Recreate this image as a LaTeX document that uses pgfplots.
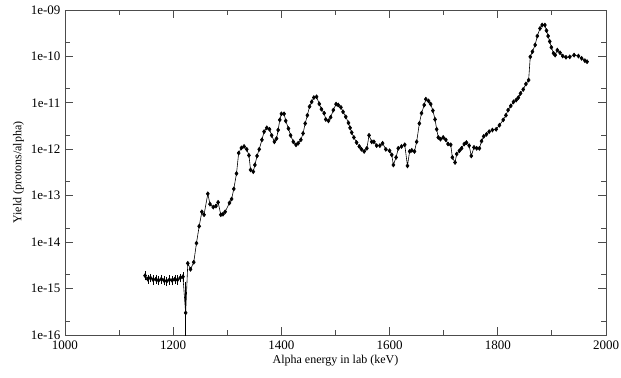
\documentclass[border=0pt]{standalone}
\usepackage{pgfplots}
\pgfplotsset{compat=1.18}
\usepackage{fontspec}
\setmainfont{Liberation Serif}
\begin{document}
\begin{tikzpicture}
\begin{axis}[
  scale only axis,
  width=541bp, height=325bp,
  xmin=1000, xmax=2000,
  ymode=log, ymin=1e-16, ymax=1e-9,
  xtick={1000,1200,1400,1600,1800,2000},
  minor xtick={1100,1300,1500,1700,1900},
  ytick={1e-16,1e-15,1e-14,1e-13,1e-12,1e-11,1e-10,1e-9},
  yticklabels={1e-16,1e-15,1e-14,1e-13,1e-12,1e-11,1e-10,1e-09},
  minor ytick={2e-16,2e-15,2e-14,2e-13,2e-12,2e-11,2e-10},
  /pgf/number format/assume math mode=true,
  /pgf/number format/1000 sep={},
  tick label style={font=\fontsize{13bp}{15bp}\selectfont},
  label style={font=\fontsize{12bp}{14bp}\selectfont},
  xlabel={Alpha energy in lab (keV)},
  ylabel={Yield (protons/alpha)},
  major tick length=8bp, minor tick length=5bp,
  axis line style={black!70, line width=0.9pt},
  every tick/.style={black!70, line width=0.9pt},
  xticklabel style={yshift=-2.5bp},
  yticklabel style={xshift=-1bp},
  xlabel style={yshift=1.5bp},
]
\addplot[draw=none, mark=none, forget plot,
  error bars/.cd, y dir=both, y explicit,
  error bar style={black, line width=0.5pt},
  error mark options={black, mark size=1.3pt, line width=0.5pt}]
 table[x index=0, y index=1, y error plus index=2, y error minus index=3] {
1148 1.9e-15 0.3e-15 0.3e-15
1153 1.6e-15 0.25e-15 0.25e-15
1158 1.7e-15 0.25e-15 0.25e-15
1163 1.55e-15 0.25e-15 0.25e-15
1168 1.6e-15 0.25e-15 0.25e-15
1173 1.5e-15 0.25e-15 0.25e-15
1178 1.6e-15 0.25e-15 0.25e-15
1183 1.5e-15 0.25e-15 0.25e-15
1188 1.45e-15 0.25e-15 0.25e-15
1193 1.55e-15 0.25e-15 0.25e-15
1198 1.5e-15 0.25e-15 0.25e-15
1203 1.6e-15 0.25e-15 0.25e-15
1208 1.55e-15 0.25e-15 0.25e-15
1213 1.7e-15 0.25e-15 0.25e-15
1218 1.8e-15 0.3e-15 0.3e-15
1223 3.0e-16 1.0e-15 1.99e-16
};
\addplot[black, line width=0.6pt, mark=diamond*, mark size=2pt, mark options={solid, fill=black}] table {
1148 1.9e-15
1153 1.6e-15
1158 1.7e-15
1163 1.55e-15
1168 1.6e-15
1173 1.5e-15
1178 1.6e-15
1183 1.5e-15
1188 1.45e-15
1193 1.55e-15
1198 1.5e-15
1203 1.6e-15
1208 1.55e-15
1213 1.7e-15
1218 1.8e-15
1223 3.0e-16
1227 3.5e-15
1232 2.6e-15
1238 3.7e-15
1243 9.5e-15
1248 2.2e-14
1253 4.5e-14
1257 3.9e-14
1264 1.1e-13
1268 6.6e-14
1274 5.7e-14
1279 6.0e-14
1283 7.2e-14
1288 3.9e-14
1292 4.0e-14
1296 4.5e-14
1304 7.0e-14
1308 8.5e-14
1312 1.4e-13
1317 3.0e-13
1321 8.3e-13
1326 1.07e-12
1331 1.15e-12
1336 1.0e-12
1340 7.4e-13
1343 3.6e-13
1348 3.3e-13
1351 4.6e-13
1355 7.2e-13
1359 1.0e-12
1364 1.6e-12
1368 2.4e-12
1373 2.9e-12
1378 2.7e-12
1382 2.0e-12
1387 1.45e-12
1391 1.7e-12
1394 2.6e-12
1397 4.3e-12
1400 5.8e-12
1405 5.8e-12
1408 4.1e-12
1413 2.8e-12
1417 2.0e-12
1422 1.45e-12
1427 1.25e-12
1431 1.35e-12
1436 1.6e-12
1440 2.2e-12
1444 3.6e-12
1448 5.4e-12
1452 8.3e-12
1456 1.05e-11
1460 1.3e-11
1465 1.35e-11
1470 9.5e-12
1474 7.3e-12
1479 6.0e-12
1482 4.4e-12
1487 4.1e-12
1491 4.9e-12
1496 7.0e-12
1501 9.4e-12
1505 9.0e-12
1510 8.0e-12
1514 6.4e-12
1519 5.0e-12
1524 3.7e-12
1527 2.9e-12
1530 2.3e-12
1534 1.8e-12
1539 1.4e-12
1544 1.15e-12
1548 1.0e-12
1553 9.0e-13
1558 1.05e-12
1562 2.0e-12
1567 1.45e-12
1571 1.45e-12
1576 1.2e-12
1582 1.2e-12
1587 1.35e-12
1593 1.0e-12
1600 9.3e-13
1604 7.6e-13
1607 4.6e-13
1612 6.7e-13
1616 1.05e-12
1622 1.15e-12
1628 1.25e-12
1633 4.4e-13
1637 9.0e-13
1641 9.5e-13
1646 9.0e-13
1650 1.45e-12
1655 3.6e-12
1659 6.0e-12
1664 9.0e-12
1667 1.2e-11
1672 1.1e-11
1676 9.4e-12
1680 6.8e-12
1684 4.4e-12
1687 2.7e-12
1690 1.8e-12
1694 1.65e-12
1699 1.8e-12
1704 1.6e-12
1708 1.3e-12
1713 1.25e-12
1716 6.7e-13
1721 5.2e-13
1724 7.9e-13
1729 9.3e-13
1733 1.05e-12
1738 1.3e-12
1742 1.4e-12
1747 1.2e-12
1751 7.2e-13
1756 1.1e-12
1761 1.05e-12
1766 1.05e-12
1770 1.5e-12
1774 1.9e-12
1779 2.1e-12
1784 2.4e-12
1790 2.6e-12
1797 2.7e-12
1803 3.3e-12
1810 4.3e-12
1815 5.4e-12
1819 7.0e-12
1824 8.6e-12
1829 1.05e-11
1834 1.15e-11
1838 1.3e-11
1842 1.6e-11
1847 1.95e-11
1852 2.55e-11
1857 3.1e-11
1860 9.8e-11
1864 1.27e-10
1869 1.77e-10
1873 2.75e-10
1878 4.0e-10
1882 4.75e-10
1887 4.75e-10
1890 3.6e-10
1893 2.75e-10
1896 2.1e-10
1899 1.57e-10
1903 1.17e-10
1906 1.07e-10
1910 1.37e-10
1915 1.2e-10
1920 1.02e-10
1926 9.6e-11
1933 9.8e-11
1941 1.07e-10
1949 1.02e-10
1955 9.1e-11
1961 8.1e-11
1965 7.7e-11
};
\end{axis}
\pgfresetboundingbox
\path ([shift={(-65bp,-43bp)}]current axis.south west) rectangle ([shift={(15bp,10bp)}]current axis.north east);
\end{tikzpicture}
\end{document}
